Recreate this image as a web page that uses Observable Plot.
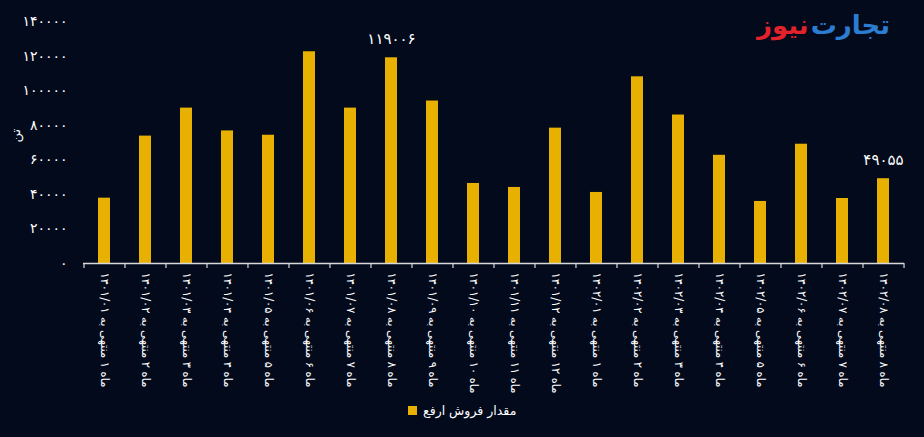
<!DOCTYPE html>
<html>
<head>
<meta charset="utf-8">
<script src="https://cdn.jsdelivr.net/npm/d3@7"></script>
<script src="https://cdn.jsdelivr.net/npm/@observablehq/plot@0.6"></script>
<style>
  html, body { margin: 0; padding: 0; background: #020a1b; }
  #wrap { position: relative; width: 924px; height: 437px; background: #020a1b; overflow: hidden; }
  #logo { position: absolute; top: 10px; right: 34px; font-family: "DejaVu Sans"; font-weight: bold; font-size: 26px; direction: rtl; white-space: nowrap; letter-spacing: -0.5px; }
  #logo span { display: inline-block; }
  #legend { position: absolute; top: 403px; left: 408px; font-family: "DejaVu Sans"; font-size: 12.5px; color: #fff; display: flex; align-items: center; gap: 6px; }
  #legend .sw { width: 9px; height: 9px; background: #e8b000; display: inline-block; }
</style>
</head>
<body>
<div id="wrap">
  <div id="chart"></div>
  <div id="logo"><span style="color:#2c7cd1; margin-left:2px">تجارت</span><span style="color:#e3222c">نیوز</span></div>
  <div id="legend"><span class="sw"></span><span>مقدار فروش ارفع</span></div>
</div>
<script>
const months = [
  "ماه ۱ منتهی به ۱۴۰۱/۰۱",
  "ماه ۲ منتهی به ۱۴۰۱/۰۲",
  "ماه ۳ منتهی به ۱۴۰۱/۰۳",
  "ماه ۴ منتهی به ۱۴۰۱/۰۴",
  "ماه ۵ منتهی به ۱۴۰۱/۰۵",
  "ماه ۶ منتهی به ۱۴۰۱/۰۶",
  "ماه ۷ منتهی به ۱۴۰۱/۰۷",
  "ماه ۸ منتهی به ۱۴۰۱/۰۸",
  "ماه ۹ منتهی به ۱۴۰۱/۰۹",
  "ماه ۱۰ منتهی به ۱۴۰۱/۱۰",
  "ماه ۱۱ منتهی به ۱۴۰۱/۱۱",
  "ماه ۱۲ منتهی به ۱۴۰۱/۱۲",
  "ماه ۱ منتهی به ۱۴۰۲/۰۱",
  "ماه ۲ منتهی به ۱۴۰۲/۰۲",
  "ماه ۳ منتهی به ۱۴۰۲/۰۳",
  "ماه ۴ منتهی به ۱۴۰۲/۰۴",
  "ماه ۵ منتهی به ۱۴۰۲/۰۵",
  "ماه ۶ منتهی به ۱۴۰۲/۰۶",
  "ماه ۷ منتهی به ۱۴۰۲/۰۷",
  "ماه ۸ منتهی به ۱۴۰۲/۰۸"
];
const sales = [37800, 73700, 89900, 76700, 74200, 122500, 89900, 119006, 94000, 46300,
               44000, 78300, 41100, 108000, 85900, 62600, 35900, 69000, 37600, 49055];
const labelled = [7, 19];
const yTicks = [0, 20000, 40000, 60000, 80000, 100000, 120000, 140000];
const yUnit = "تن";

const fa = s => String(s).replace(/\d/g, d => "۰۱۲۳۴۵۶۷۸۹"[+d]);
const data = months.map((m, i) => ({month: m, value: sales[i], i}));

const W = 924, H = 437, ML = 83, MR = 20, MT = 21, MB = 174;
const step = (W - ML - MR) / months.length;
const gold = "#e8b000";
const axisColor = "#d9d9d9";

const chart = Plot.plot({
  width: W, height: H,
  marginLeft: ML, marginRight: MR, marginTop: MT, marginBottom: MB,
  style: {background: "transparent", color: "#ffffff", fontFamily: "DejaVu Sans"},
  x: {domain: months, paddingInner: 0.71, paddingOuter: 0.355, label: null},
  y: {domain: [0, 140000], label: null},
  marks: [
    Plot.barY(data, {x: "month", y: "value", fill: gold}),
    Plot.ruleY([0], {stroke: axisColor, strokeWidth: 1.5}),
    Plot.ruleX(months, {x: d => d, y1: 0, y2: 0, insetBottom: -5, dx: -step / 2, stroke: axisColor, strokeWidth: 1.2}),
    Plot.ruleX(months.slice(-1), {x: d => d, y1: 0, y2: 0, insetBottom: -5, dx: step / 2, stroke: axisColor, strokeWidth: 1.2}),
    Plot.axisY({ticks: yTicks, tickSize: 0, tickPadding: 16, fontSize: 14, tickFormat: d => fa(d), label: null}),
    Plot.axisX({tickRotate: 90, tickSize: 0, tickPadding: 9, fontSize: 11.5, label: null}),
    Plot.text(data.filter(d => labelled.includes(d.i)), {x: "month", y: "value", text: d => fa(d.value), dy: -19, fill: "#ffffff", fontSize: 15}),
    Plot.text([yUnit], {frameAnchor: "left", dx: -68, rotate: -90, text: d => d, fill: "#ffffff", fontSize: 13})
  ]
});
document.getElementById("chart").appendChild(chart);
</script>
</body>
</html>
